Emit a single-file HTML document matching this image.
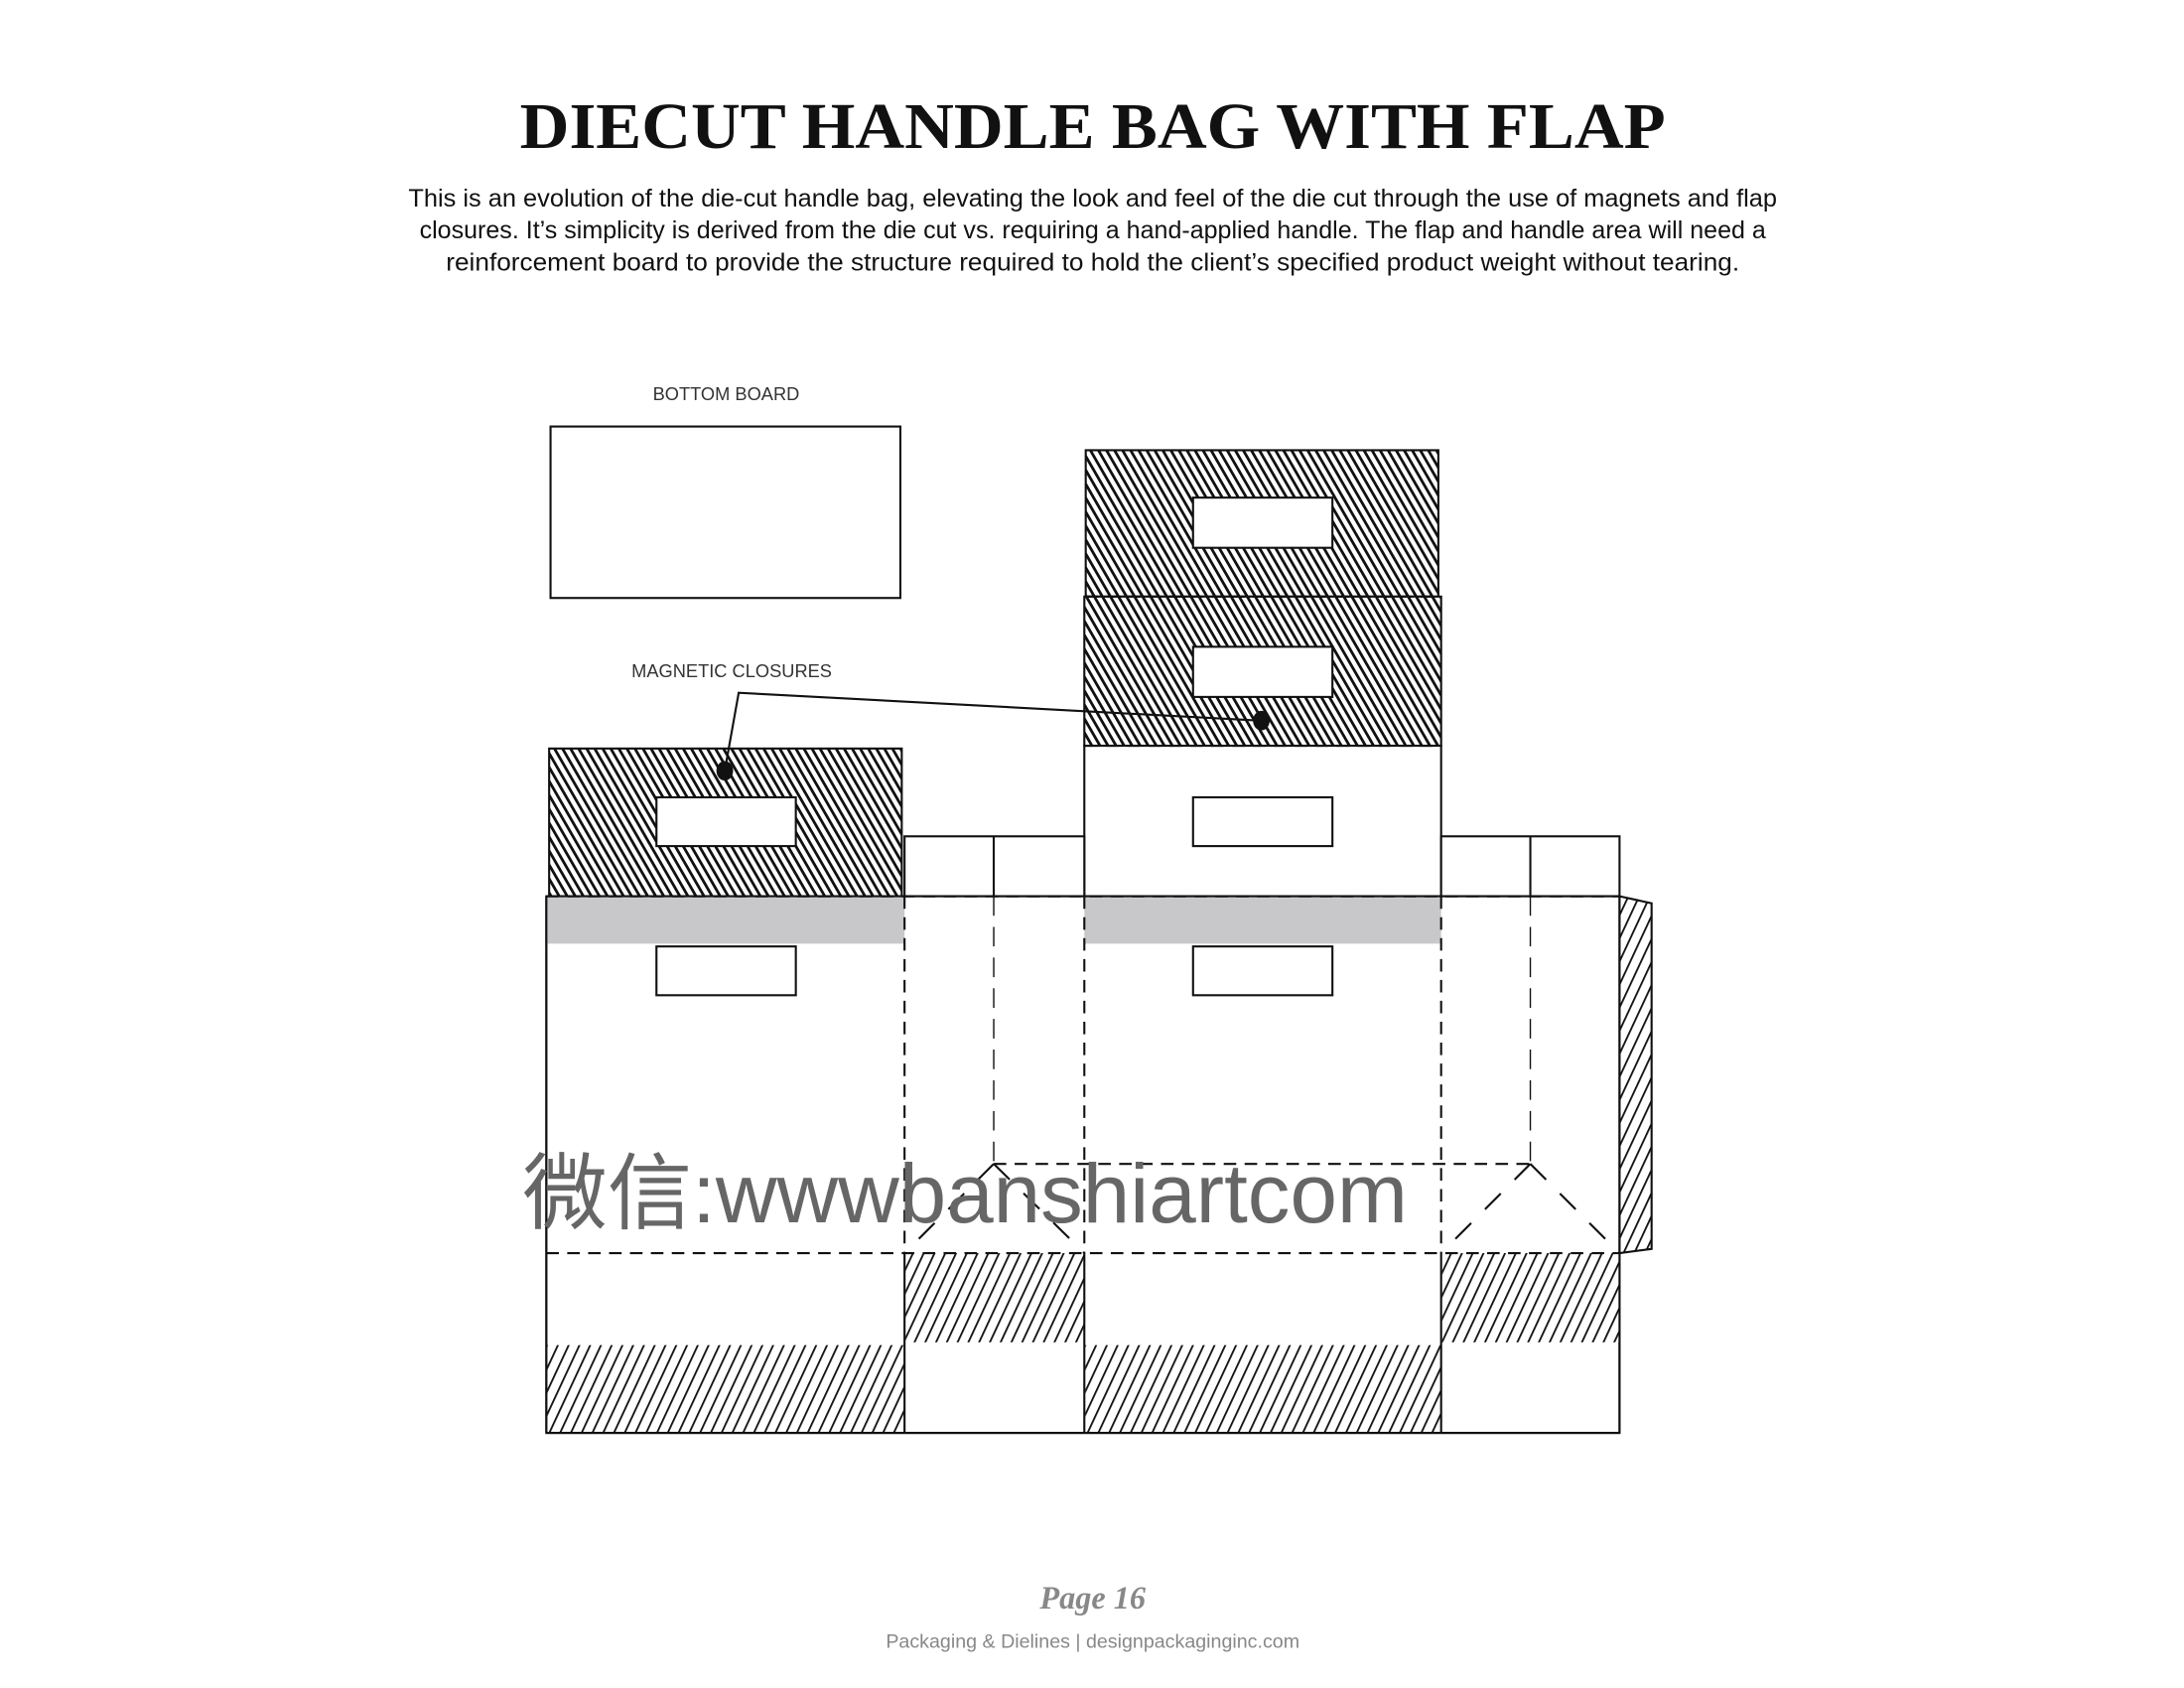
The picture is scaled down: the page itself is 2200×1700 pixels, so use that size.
<!DOCTYPE html>
<html><head><meta charset="utf-8"><style>
html,body{margin:0;padding:0;background:#fff;}
svg{display:block;}
</style></head><body>
<svg width="2200" height="1700" viewBox="0 0 1567 1211" preserveAspectRatio="none" xmlns="http://www.w3.org/2000/svg">
<defs>
<pattern id="dense" patternUnits="userSpaceOnUse" width="5" height="5" patternTransform="rotate(-30)">
<rect width="5" height="5" fill="#fff"/><rect width="2" height="5" fill="#111"/></pattern>
<pattern id="light" patternUnits="userSpaceOnUse" width="7" height="7" patternTransform="rotate(25)">
<rect width="7" height="7" fill="#fff"/><rect width="1.3" height="7" fill="#111"/></pattern>
</defs>
<rect width="1567" height="1211" fill="#fff"/>
<text x="784" y="106" text-anchor="middle" font-family="Liberation Serif, serif" font-weight="bold" font-size="47" fill="#111" textLength="822" lengthAdjust="spacingAndGlyphs">DIECUT HANDLE BAG WITH FLAP</text>
<g font-family="Liberation Sans, sans-serif" font-size="17.5" fill="#111" text-anchor="middle">
<text x="784" y="148" textLength="982" lengthAdjust="spacingAndGlyphs">This is an evolution of the die-cut handle bag, elevating the look and feel of the die cut through the use of magnets and flap</text>
<text x="784" y="171" textLength="966" lengthAdjust="spacingAndGlyphs">closures. It’s simplicity is derived from the die cut vs. requiring a hand-applied handle. The flap and handle area will need a</text>
<text x="784" y="194" textLength="928" lengthAdjust="spacingAndGlyphs">reinforcement board to provide the structure required to hold the client’s specified product weight without tearing.</text>
</g>
<g font-family="Liberation Sans, sans-serif" font-size="13" fill="#333" text-anchor="middle">
<text x="521" y="287">BOTTOM BOARD</text>
<text x="525" y="486">MAGNETIC CLOSURES</text>
</g>
<g stroke="#111" stroke-width="1.5" fill="none">
<rect x="395" y="306" width="251" height="123" fill="#fff"/>
<rect x="779" y="323" width="253" height="105" fill="url(#dense)"/>
<rect x="778" y="428" width="256" height="107" fill="url(#dense)"/>
<rect x="394" y="537" width="253" height="106" fill="url(#dense)"/>
<rect x="778" y="535" width="256" height="108" fill="#fff"/>
<rect x="649" y="600" width="129" height="43" fill="#fff"/>
<rect x="1034" y="600" width="128" height="43" fill="#fff"/>
<line x1="713" y1="600" x2="713" y2="643"/>
<line x1="1098" y1="600" x2="1098" y2="643"/>
<polygon points="1162,643 1185,648 1185,896 1162,899" fill="url(#light)"/>
<rect x="392" y="643" width="770" height="385" fill="#fff"/>
</g>
<rect x="392" y="644" width="257" height="33" fill="#c8c8ca"/>
<rect x="778" y="644" width="256" height="33" fill="#c8c8ca"/>
<rect x="392.7" y="965" width="256" height="62.5" fill="url(#light)"/>
<rect x="778.7" y="965" width="255" height="62.5" fill="url(#light)"/>
<rect x="649.7" y="899" width="128" height="64" fill="url(#light)"/>
<rect x="1034.7" y="899" width="127" height="64" fill="url(#light)"/>
<g stroke="#111" stroke-width="1.5" fill="#fff">
<rect x="856" y="357" width="100" height="36"/>
<rect x="856" y="464" width="100" height="36"/>
<rect x="856" y="572" width="100" height="35"/>
<rect x="471" y="572" width="100" height="35"/>
<rect x="471" y="679" width="100" height="35"/>
<rect x="856" y="679" width="100" height="35"/>
</g>
<g stroke="#111" stroke-width="1.5" fill="none">
<line x1="392" y1="643" x2="392" y2="1028"/>
<line x1="1162" y1="643" x2="1162" y2="1028"/>
<line x1="392" y1="1028" x2="1162" y2="1028"/>
<line x1="649" y1="899" x2="649" y2="1028"/>
<line x1="778" y1="899" x2="778" y2="1028"/>
<line x1="1034" y1="899" x2="1034" y2="1028"/>
</g>
<g stroke="#111" stroke-width="1.5" fill="none" stroke-dasharray="9,6">
<line x1="392" y1="643" x2="1162" y2="643"/>
<line x1="392" y1="899" x2="1162" y2="899"/>
<line x1="779" y1="535" x2="1034" y2="535"/>
<line x1="779" y1="428" x2="1032" y2="428"/>
<line x1="713" y1="835" x2="1098" y2="835"/>
<line x1="649" y1="643" x2="649" y2="899"/>
<line x1="778" y1="643" x2="778" y2="899"/>
<line x1="1034" y1="643" x2="1034" y2="899"/>
<line x1="713" y1="643" x2="713" y2="835" stroke-width="1" stroke-dasharray="14,8"/>
<line x1="1098" y1="643" x2="1098" y2="835" stroke-width="1" stroke-dasharray="14,8"/>
<line x1="713" y1="835" x2="649" y2="899" stroke-dasharray="16,14"/>
<line x1="713" y1="835" x2="778" y2="899" stroke-dasharray="16,14"/>
<line x1="1098" y1="835" x2="1034" y2="899" stroke-dasharray="16,14"/>
<line x1="1098" y1="835" x2="1162" y2="899" stroke-dasharray="16,14"/>
</g>
<polyline points="520,553 530,497 905,517" stroke="#111" stroke-width="1.5" fill="none"/>
<ellipse cx="520" cy="553" rx="6" ry="7" fill="#111"/>
<ellipse cx="905" cy="517" rx="6" ry="7" fill="#111"/>
<text x="375" y="877" font-family="Liberation Sans, 'Noto Sans CJK SC', sans-serif" font-size="60" fill="#666" textLength="635" lengthAdjust="spacingAndGlyphs">微信:wwwbanshiartcom</text>
<text x="784" y="1154" text-anchor="middle" font-family="Liberation Serif, serif" font-style="italic" font-weight="bold" font-size="23" fill="#888">Page 16</text>
<text x="784" y="1182" text-anchor="middle" font-family="Liberation Sans, sans-serif" font-size="14" fill="#888">Packaging &amp; Dielines  |  designpackaginginc.com</text>
</svg>
</body></html>
